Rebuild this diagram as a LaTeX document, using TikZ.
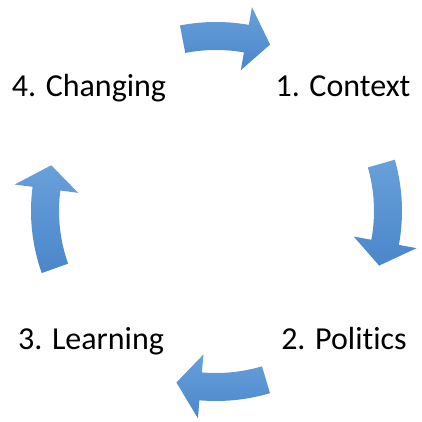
\documentclass[tikz,border=0pt]{standalone}
\usepackage{fontspec}
\setmainfont{Carlito}[Ligatures=NoCommon]
\definecolor{arrowtop}{RGB}{104,160,218}
\definecolor{arrowbottom}{RGB}{74,134,202}
\begin{document}
\begin{tikzpicture}[x=1pt,y=1pt,
    stage/.style={anchor=base,font=\fontsize{32}{38}\selectfont},
    cyclearrow/.style={top color=arrowtop,bottom color=arrowbottom,draw=none}]
    \useasboundingbox (0,0) rectangle (421,422);

    \node[stage] (changing) at (89,325) {4. Changing};
    \node[stage] (context) at (343,325) {1. Context};
    \node[stage] (learning) at (91,72) {3. Learning};
    \node[stage] (politics) at (344,72) {2. Politics};

    % curved arrows round the cycle: start angle / tip angle / radius
    \begin{scope}[shift={(216,211)}]
    \foreach \s/\t/\r in {101/72/175, 16/-18.5/172, -73.5/-103/176, 199.6/164.5/171} {
        \pgfmathsetmacro{\h}{\t+8}
        \pgfmathsetmacro{\ro}{\r+14}
        \pgfmathsetmacro{\ri}{\r-14}
        \pgfmathsetmacro{\ho}{\r+32}
        \pgfmathsetmacro{\hi}{\r-32}
        \path[cyclearrow] (\s:\ro pt) arc[start angle=\s,end angle=\h,radius=\ro pt]
            -- (\h:\ho pt) -- (\t:\r pt) -- (\h:\hi pt) -- (\h:\ri pt)
            arc[start angle=\h,end angle=\s,radius=\ri pt] -- cycle;
    }
    \end{scope}
\end{tikzpicture}
\end{document}
